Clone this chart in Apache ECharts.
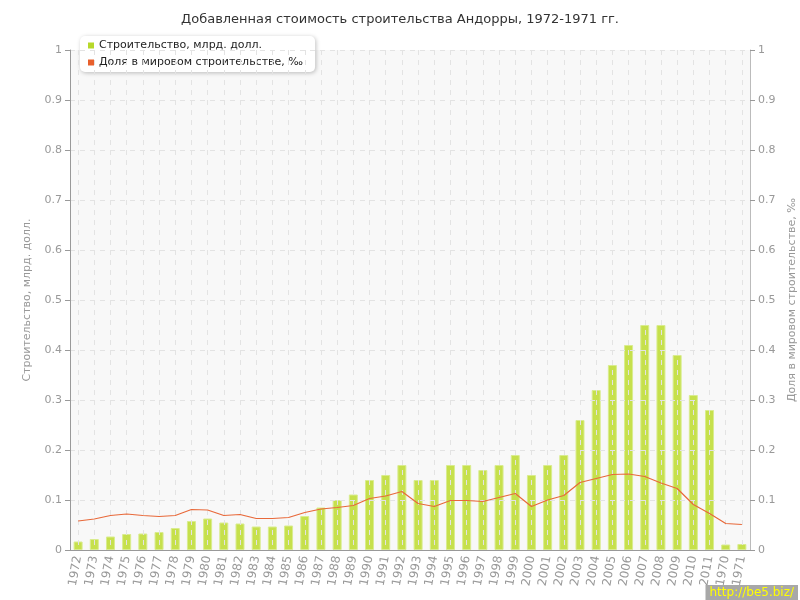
<!DOCTYPE html>
<html>
<head>
<meta charset="utf-8">
<script src="https://cdn.jsdelivr.net/npm/echarts@6/dist/echarts.min.js"></script>
<style>html,body{margin:0;padding:0;background:#fff}#c{width:800px;height:600px}</style>
</head>
<body>
<div id="c"></div>
<script>
var categories = ['1972','1973','1974','1975','1976','1977','1978','1979','1980','1981','1982','1983','1984','1985','1986','1987','1988','1989','1990','1991','1992','1993','1994','1995','1996','1997','1998','1999','2000','2001','2002','2003','2004','2005','2006','2007','2008','2009','2010','2011','1970','1971'];
var constructionValues = [0.017,0.022,0.027,0.032,0.033,0.036,0.044,0.058,0.063,0.055,0.053,0.047,0.047,0.049,0.068,0.085,0.10,0.111,0.14,0.15,0.17,0.14,0.14,0.17,0.17,0.16,0.17,0.19,0.15,0.17,0.19,0.26,0.32,0.37,0.41,0.45,0.45,0.39,0.31,0.28,0.011,0.012];
var worldShareValues = [0.058,0.062,0.069,0.072,0.069,0.067,0.069,0.081,0.080,0.069,0.071,0.063,0.063,0.065,0.075,0.082,0.085,0.089,0.103,0.108,0.117,0.093,0.087,0.099,0.099,0.097,0.105,0.113,0.087,0.100,0.109,0.135,0.143,0.151,0.152,0.147,0.134,0.123,0.091,0.073,0.053,0.051];
var valueTicks = [0,0.1,0.2,0.3,0.4,0.5,0.6,0.7,0.8,0.9,1];

var FONT = 'DejaVu Sans';
var chart = echarts.init(document.getElementById('c'), null, {renderer:'canvas'});
function fmt(v){ return v === 0 ? '0' : (v === 1 ? '1' : String(Math.round(v*10)/10)); }
chart.setOption({
  animation: false,
  backgroundColor: '#ffffff',
  title: {
    text: 'Добавленная стоимость строительства Андорры, 1972-1971 гг.',
    left: 'center', top: 8,
    textStyle: {fontFamily: FONT, fontSize: 13, fontWeight: 'normal', color: '#333'}
  },
  legend: {
    orient: 'vertical', left: 80, top: 36,
    backgroundColor: '#ffffff', borderRadius: 5,
    shadowBlur: 4, shadowColor: 'rgba(0,0,0,0.25)', shadowOffsetX: 1, shadowOffsetY: 1,
    padding: [4, 12, 4, 8], itemGap: 6, itemWidth: 6, itemHeight: 6, icon: 'rect',
    textStyle: {fontFamily: FONT, fontSize: 11, color: '#222'},
    data: [
      {name: 'Строительство, млрд. долл.', itemStyle: {color: '#b7d82a', borderWidth: 0}},
      {name: 'Доля в мировом строительстве, ‰', itemStyle: {color: '#e8602c', borderWidth: 0}}
    ]
  },
  grid: {left: 70, right: 50, top: 50, bottom: 50, show: true, backgroundColor: '#f8f8f8', borderWidth: 0, containLabel: false, outerBoundsMode: 'none'},
  xAxis: {
    type: 'category', data: categories, z: 5,
    axisLine: {lineStyle: {color: '#999'}},
    axisTick: {alignWithLabel: true, length: 5, lineStyle: {color: '#999'}},
    axisLabel: {rotate: 80, color: '#999', fontFamily: FONT, fontSize: 12, margin: 6, interval: 0},
    splitLine: {show: true, alignWithLabel: true, lineStyle: {color: '#e3e3e3', type: [5, 5]}}
  },
  yAxis: [
    {
      type: 'value', min: 0, max: 1, interval: 0.1, position: 'left', z: 5,
      name: 'Строительство, млрд. долл.', nameLocation: 'middle', nameGap: 37, nameMoveOverlap: false,
      nameTextStyle: {fontFamily: FONT, fontSize: 11, color: '#999'},
      axisLine: {show: true, lineStyle: {color: '#999'}},
      axisTick: {show: true, length: 5, lineStyle: {color: '#999'}},
      axisLabel: {color: '#999', fontFamily: FONT, fontSize: 11, margin: 8, formatter: fmt},
      splitLine: {show: true, lineStyle: {color: '#e3e3e3', type: [5, 5]}}
    },
    {
      type: 'value', min: 0, max: 1, interval: 0.1, position: 'right', z: 5,
      name: 'Доля в мировом строительстве, ‰', nameLocation: 'middle', nameGap: 37, nameMoveOverlap: false,
      nameRotate: 90,
      nameTextStyle: {fontFamily: FONT, fontSize: 11, color: '#999'},
      axisLine: {show: true, lineStyle: {color: '#bbb'}},
      axisTick: {show: true, length: 5, lineStyle: {color: '#999'}},
      axisLabel: {color: '#999', fontFamily: FONT, fontSize: 11, margin: 8, formatter: fmt},
      splitLine: {show: false}
    }
  ],
  series: [
    {
      name: 'Строительство, млрд. долл.', type: 'bar', yAxisIndex: 0, z: 2,
      data: constructionValues, barWidth: 9,
      itemStyle: {color: '#c6e04c', borderColor: '#d9ec8e', borderWidth: 1}
    },
    {
      name: 'Доля в мировом строительстве, ‰', type: 'line', yAxisIndex: 1, z: 10,
      data: worldShareValues, symbol: 'none',
      lineStyle: {color: '#e8693a', width: 1.2},
      itemStyle: {color: '#e8602c'}
    }
  ],
  graphic: [
    {
      type: 'text', right: 2, bottom: 0, z: 100,
      style: {text: 'http://be5.biz/', fill: '#ffff00', fontFamily: FONT, fontSize: 12,
        backgroundColor: '#a8a8a8', padding: [2, 4, 1, 4]}
    }
  ]
});
</script>
</body>
</html>
